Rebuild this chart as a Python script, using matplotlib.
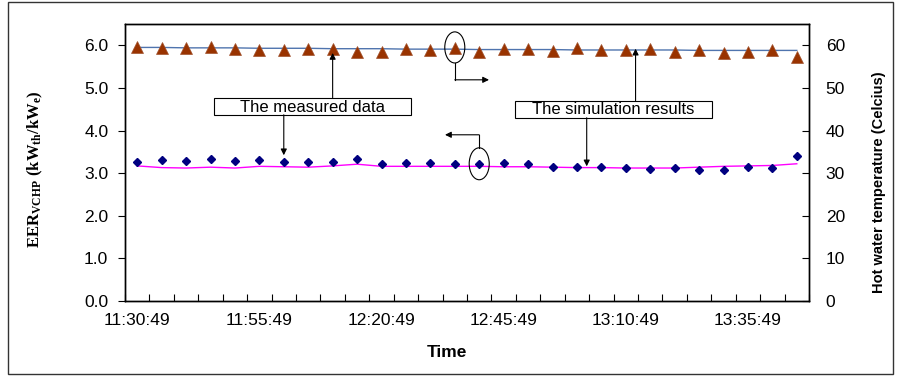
import numpy as np
import matplotlib
matplotlib.use('Agg')
import matplotlib.pyplot as plt
from matplotlib.patches import Rectangle, Ellipse

plt.rcParams['font.family'] = ['Liberation Sans', 'DejaVu Sans']
plt.rcParams['mathtext.fontset'] = 'custom'
plt.rcParams['mathtext.rm'] = 'Liberation Serif:bold'
plt.rcParams['mathtext.bf'] = 'Liberation Serif:bold'
plt.rcParams['mathtext.it'] = 'Liberation Serif:bold'

# %%
# data (one point every 5 minutes)
times = ['11:30:49', '11:35:49', '11:40:49', '11:45:49', '11:50:49', '11:55:49', '12:00:49',
         '12:05:49', '12:10:49', '12:15:49', '12:20:49', '12:25:49', '12:30:49', '12:35:49',
         '12:40:49', '12:45:49', '12:50:49', '12:55:49', '13:00:49', '13:05:49', '13:10:49',
         '13:15:49', '13:20:49', '13:25:49', '13:30:49', '13:35:49', '13:40:49', '13:45:49']

eer_measured = [3.25, 3.32, 3.28, 3.34, 3.28, 3.30, 3.27, 3.26, 3.25, 3.33, 3.21, 3.23, 3.23, 3.21,
                3.22, 3.23, 3.21, 3.15, 3.14, 3.15, 3.11, 3.09, 3.11, 3.08, 3.08, 3.14, 3.12, 3.40]
eer_simulated = [3.17, 3.13, 3.12, 3.14, 3.12, 3.16, 3.15, 3.14, 3.17, 3.21, 3.16, 3.16, 3.16, 3.16,
                 3.16, 3.15, 3.15, 3.14, 3.13, 3.13, 3.12, 3.12, 3.12, 3.14, 3.16, 3.17, 3.18, 3.22]

temp_measured = [59.7, 59.4, 59.4, 59.5, 59.2, 58.8, 58.9, 59.2, 59.2, 58.4, 58.4, 59.2, 58.9, 59.4,
                 58.4, 59.1, 59.2, 58.6, 59.4, 58.9, 58.8, 59.2, 58.4, 58.8, 58.1, 58.4, 58.8, 57.2]
temp_simulated = [59.5, 59.5, 59.4, 59.4, 59.4, 59.3, 59.3, 59.3, 59.2, 59.2, 59.2, 59.1, 59.1, 59.1,
                  59.0, 59.0, 59.0, 59.0, 58.9, 58.9, 58.9, 58.9, 58.9, 58.8, 58.8, 58.8, 58.8, 58.8]

label_every = 5

# %%
x = np.arange(len(times))

fig = plt.figure(figsize=(8.98, 3.76), dpi=100)
ax = fig.add_axes([0.1392, 0.1995, 0.7617, 0.7367])
ax2 = ax.twinx()

ax.plot(x, eer_simulated, color='#FF00FF', lw=1.0, zorder=2)
ax.plot(x, eer_measured, ls='none', marker='D', ms=4.5, color='#000080', zorder=3)
ax2.plot(x, temp_simulated, color='#4F74AE', lw=1.0, zorder=2)
ax2.plot(x, temp_measured, ls='none', marker='^', ms=9, color='#993300',
         markeredgecolor='#A0522D', markeredgewidth=0.5, zorder=3)

ax.set_xlim(-0.5, len(times) - 0.5)
ax.set_ylim(0, 6.5)
ax2.set_ylim(0, 65)

ax.set_yticks(np.arange(0, 6.01, 1.0))
ax.set_yticklabels([f'{v:.1f}' for v in np.arange(0, 6.01, 1.0)])
ax2.set_yticks(np.arange(0, 61, 10))

# tick marks sit between categories, labels on every 5th category
ax.set_xticks(np.arange(-0.5, len(times), 1.0))
ax.set_xticklabels([])
ax.set_xticks(x[::label_every], minor=True)
ax.set_xticklabels(times[::label_every], minor=True)
ax.tick_params(axis='x', which='major', direction='in', length=5, width=0.8)
ax.tick_params(axis='x', which='minor', length=0, pad=9, labelsize=12.5)
ax.tick_params(axis='y', direction='out', length=5, width=0.8, pad=7, labelsize=12.5)
ax2.tick_params(axis='y', direction='in', length=5, width=0.8, pad=12, labelsize=12.5)

for a in (ax, ax2):
    for s in a.spines.values():
        s.set_linewidth(1.0)

ax.set_xlabel('Time', fontsize=12.5, fontweight='bold')
ax.xaxis.set_label_coords(0.471, -0.16)
ax.set_ylabel(r'$\mathbf{EER_{VCHP}\ (kW_{th}/kW_{e})}$', fontsize=12)
ax.yaxis.set_label_coords(-0.117, 0.475)
ax2.set_ylabel('Hot water temperature (Celcius)', fontsize=10.5, fontweight='bold')
ax2.yaxis.set_label_coords(1.092, 0.43)

# %%
# callout boxes
for (x0, x1, y0, y1, txt) in [(0.130, 0.418, 0.671, 0.733, 'The measured data'),
                              (0.570, 0.858, 0.661, 0.722, 'The simulation results')]:
    ax.add_patch(Rectangle((x0, y0), x1 - x0, y1 - y0, transform=ax.transAxes,
                           facecolor='white', edgecolor='black', lw=0.8, zorder=4))
    ax.text((x0 + x1) / 2, (y0 + y1) / 2 - 0.002, txt, transform=ax.transAxes,
            ha='center', va='center', fontsize=12, zorder=5)

arrow = dict(arrowstyle='-|>', color='black', lw=0.8, mutation_scale=9, shrinkA=0, shrinkB=0)
ax.annotate('', xy=(8.0, 5.82), xytext=(8.0, 4.77), arrowprops=arrow, zorder=5)
ax.annotate('', xy=(6.0, 3.42), xytext=(6.0, 4.37), arrowprops=arrow, zorder=5)
ax.annotate('', xy=(20.4, 5.92), xytext=(20.4, 4.70), arrowprops=arrow, zorder=5)
ax.annotate('', xy=(18.4, 3.16), xytext=(18.4, 4.30), arrowprops=arrow, zorder=5)

# ellipses pointing to the axis each series belongs to
ax.add_patch(Ellipse((13.0, 5.95), 0.82, 0.73, fill=False, edgecolor='black', lw=0.8, zorder=5))
ax.plot([13.0, 13.0], [5.59, 5.19], color='black', lw=0.8, zorder=5)
ax.annotate('', xy=(14.4, 5.19), xytext=(13.0, 5.19), arrowprops=arrow, zorder=5)

ax.add_patch(Ellipse((14.0, 3.22), 0.82, 0.75, fill=False, edgecolor='black', lw=0.8, zorder=5))
ax.plot([14.0, 14.0], [3.59, 3.90], color='black', lw=0.8, zorder=5)
ax.annotate('', xy=(12.6, 3.90), xytext=(14.0, 3.90), arrowprops=arrow, zorder=5)

ax.set_zorder(ax2.get_zorder() + 1)
ax.patch.set_visible(False)

# outer frame
fig.patches.append(Rectangle((8 / 898, 2 / 376), 885 / 898, 372 / 376, transform=fig.transFigure,
                             fill=False, edgecolor='#333333', lw=1.0))

fig.savefig('out.png', dpi=100)
